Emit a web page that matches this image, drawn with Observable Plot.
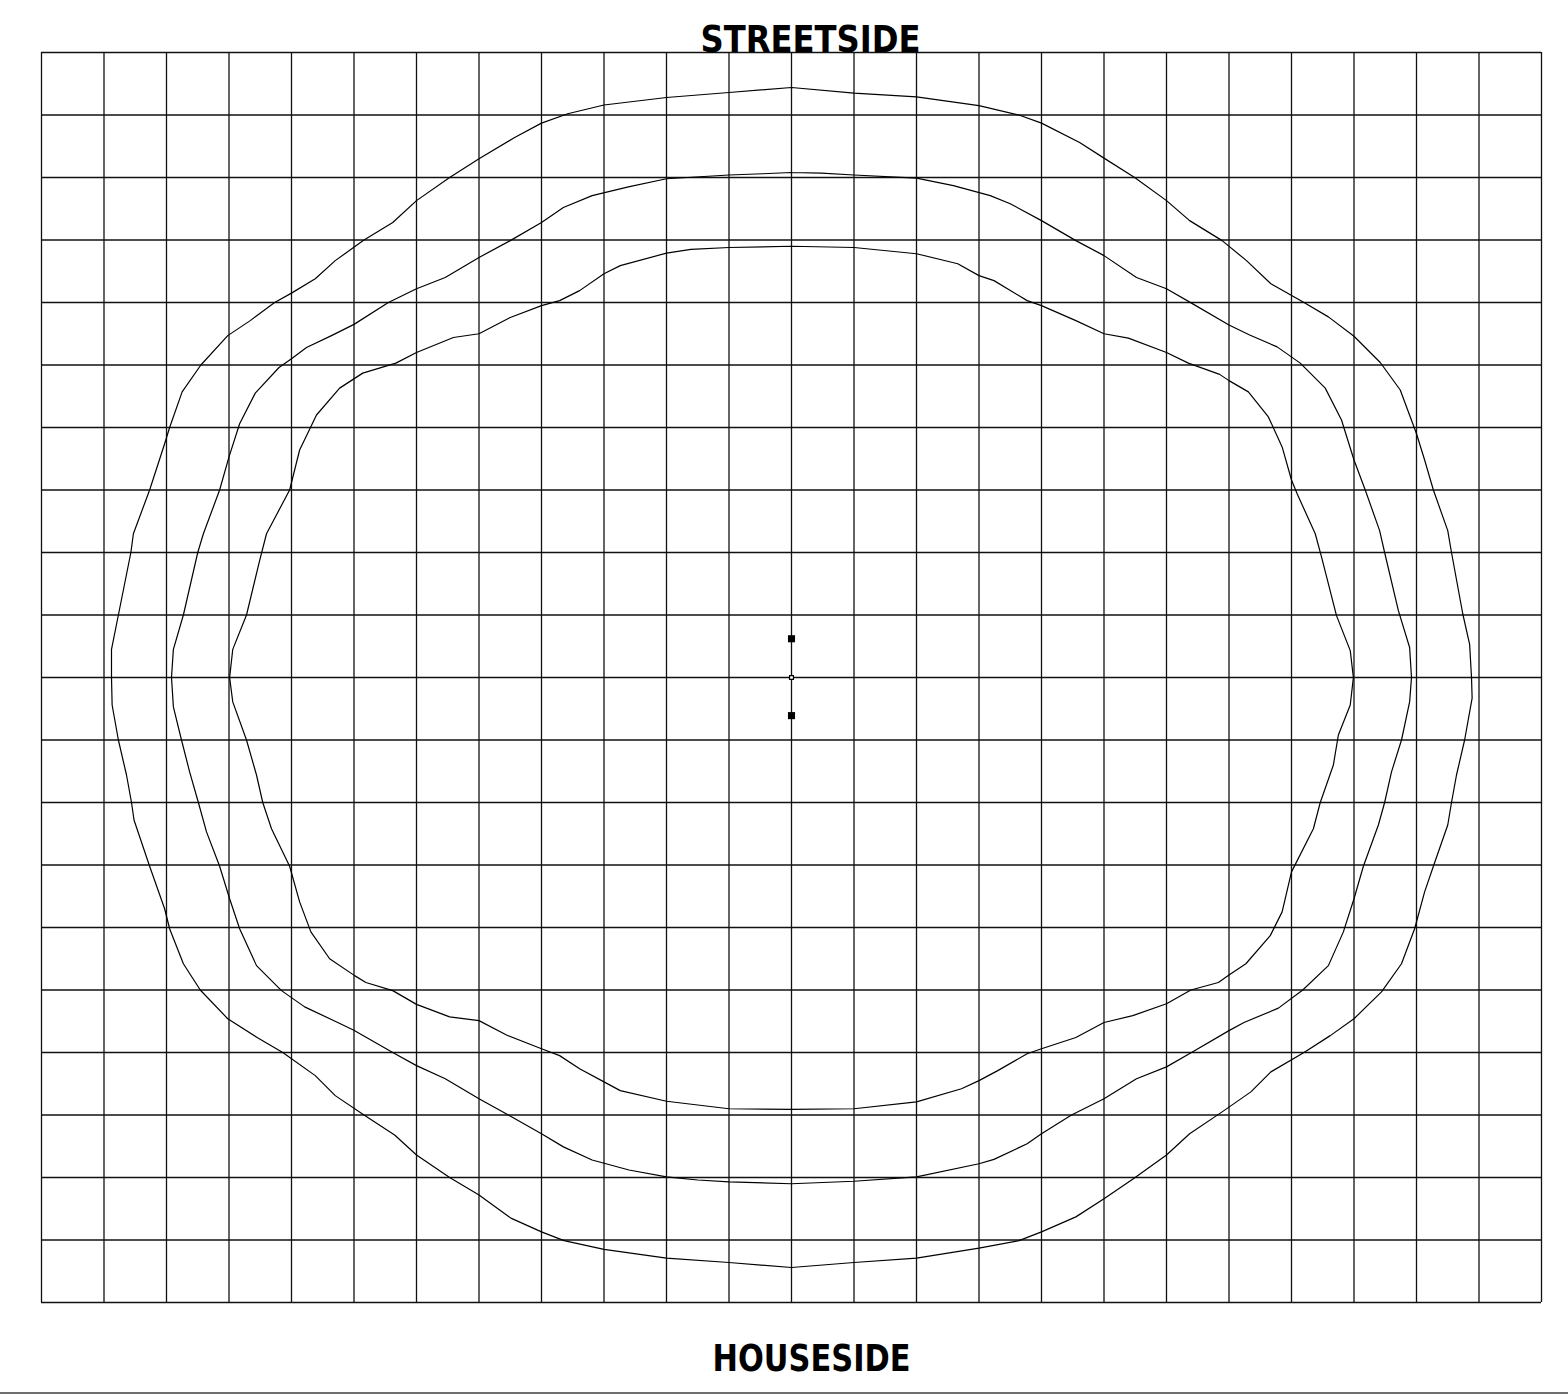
<!DOCTYPE html>
<html>
<head>
<meta charset="utf-8">
<script src="https://cdn.jsdelivr.net/npm/d3@7"></script>
<script src="https://cdn.jsdelivr.net/npm/@observablehq/plot@0.6"></script>
<style>
  html, body { margin: 0; padding: 0; background: #fff; }
  #chart { width: 1568px; }
  .baseline { width: 1568px; height: 2px; background: #6e6e6e; }
</style>
</head>
<body>
<div id="chart"></div>
<div class="baseline"></div>
<script>
// Grid lines (grid units; one cell = one unit)
const gridX = [-12,-11,-10,-9,-8,-7,-6,-5,-4,-3,-2,-1,0,1,2,3,4,5,6,7,8,9,10,11,12];
const gridY = [-10,-9,-8,-7,-6,-5,-4,-3,-2,-1,0,1,2,3,4,5,6,7,8,9,10];

// Labels
const topLabel = "STREETSIDE";
const bottomLabel = "HOUSESIDE";

// Outer contour (x, y), clockwise from top centre
const outerContour = [
  [0,9.44],[1,9.35],[2,9.29],[3,9.15],[3.64,9.0],[4,8.87],[4.61,8.56],[5,8.31],[5.49,8.0],[6,7.63],
  [6.37,7.31],[6.89,6.99],[7.28,6.67],[7.67,6.3],[8.2,6.0],[8.59,5.77],[9,5.46],[9.42,5.04],[9.74,4.6],
  [10,3.9],[10.13,3.48],[10.27,3.0],[10.5,2.35],[10.56,2.0],[10.74,1.02],[10.85,0.53],[10.88,0],
  [10.89,-0.33],[10.77,-1.0],[10.64,-1.56],[10.56,-2.0],[10.5,-2.36],[10.27,-3.02],[10.13,-3.43],
  [9.97,-4.02],[9.76,-4.58],[9.44,-5.03],[9.0,-5.46],[8.62,-5.73],[8.2,-6.0],[7.67,-6.31],[7.35,-6.63],
  [6.89,-6.95],[6.37,-7.3],[6.0,-7.64],[5.47,-8.02],[5,-8.34],[4.55,-8.63],[4,-8.87],[3.64,-9.01],
  [3,-9.13],[2,-9.29],[1,-9.36],[0,-9.44],
  [-1,-9.36],[-2,-9.29],[-3,-9.15],[-3.64,-9.01],[-4,-8.87],[-4.49,-8.65],[-5,-8.28],[-5.47,-8.0],
  [-6,-7.64],[-6.35,-7.32],[-6.84,-7.0],[-7.3,-6.69],[-7.62,-6.37],[-8.14,-6.0],[-8.55,-5.76],
  [-9.02,-5.46],[-9.46,-5.0],[-9.73,-4.58],[-9.95,-4.02],[-10.03,-3.7],[-10.27,-3.02],[-10.52,-2.28],
  [-10.56,-2.0],[-10.64,-1.56],[-10.77,-1.0],[-10.87,-0.44],[-10.88,0],
  [-10.88,0.45],[-10.77,1.0],[-10.57,2.0],[-10.53,2.3],[-10.27,3.0],[-10.03,3.74],[-9.95,4.0],
  [-9.75,4.57],[-9.45,5.0],[-9.02,5.47],[-8.66,5.71],[-8.27,6.0],[-8,6.15],[-7.62,6.38],[-7.3,6.67],
  [-6.84,7.0],[-6.38,7.28],[-6.0,7.63],[-5.47,8.0],[-5,8.30],[-4.43,8.64],[-4,8.87],[-3.58,9.02],
  [-3,9.16],[-2,9.28],[-1,9.36],[0,9.44]
];

// Middle contour
const middleContour = [
  [0,8.08],[0.48,8.07],[1,8.04],[2,7.99],[2.59,7.87],[3.18,7.71],[3.5,7.58],[4,7.31],[4.55,6.99],
  [5,6.75],[5.52,6.4],[6,6.22],[6.4,5.99],[7,5.64],[7.33,5.48],[7.77,5.29],[8.14,5.03],[8.54,4.63],
  [8.8,4.12],[9,3.48],[9.18,3.0],[9.41,2.35],[9.49,2.0],[9.71,1.07],[9.89,0.48],[9.92,0],
  [9.89,-0.39],[9.76,-1.0],[9.6,-1.51],[9.49,-2.0],[9.39,-2.36],[9.15,-3.02],[9.0,-3.54],[8.83,-4.07],
  [8.59,-4.61],[8.18,-5.0],[7.79,-5.29],[7.24,-5.52],[7.0,-5.65],[6.4,-6.0],[6.0,-6.23],[5.52,-6.42],
  [5,-6.74],[4.48,-7.0],[4,-7.3],[3.77,-7.46],[3.24,-7.71],[3,-7.78],[2,-7.99],[1,-8.06],[0,-8.1],
  [-1,-8.07],[-1.5,-8.04],[-2,-7.99],[-2.6,-7.88],[-3.19,-7.72],[-3.65,-7.51],[-4,-7.3],[-4.53,-7.0],
  [-5,-6.74],[-5.54,-6.42],[-6,-6.21],[-6.38,-6.0],[-7.01,-5.64],[-7.26,-5.52],[-7.79,-5.27],
  [-8.16,-5.01],[-8.56,-4.61],[-8.83,-4.02],[-8.99,-3.54],[-9.15,-3.02],[-9.36,-2.47],[-9.49,-2.0],
  [-9.63,-1.51],[-9.76,-1.0],[-9.89,-0.47],[-9.92,0],
  [-9.89,0.45],[-9.73,1.0],[-9.5,2.0],[-9.41,2.3],[-9.15,3.0],[-9.0,3.53],[-8.83,4.06],[-8.58,4.55],
  [-8.2,4.96],[-8.0,5.1],[-7.76,5.28],[-7.36,5.47],[-7.0,5.65],[-6.45,6.0],[-6.0,6.22],[-5.54,6.4],
  [-5,6.72],[-4.5,6.99],[-4,7.28],[-3.65,7.52],[-3.19,7.71],[-2.61,7.85],[-2,7.98],[-1,8.04],
  [-0.46,8.06],[0,8.08]
];

// Inner contour
const innerContour = [
  [0,6.9],[1,6.88],[2,6.78],[2.66,6.62],[3,6.43],[3.24,6.35],[3.77,6.03],[4,5.95],[4.55,5.71],
  [5,5.5],[5.39,5.43],[6,5.2],[6.35,5.03],[6.85,4.85],[7,4.75],[7.31,4.57],[7.63,4.17],[7.85,3.69],
  [8.0,3.16],[8.09,2.94],[8.38,2.3],[8.48,1.93],[8.72,0.99],[8.94,0.43],[8.99,0],
  [8.94,-0.44],[8.75,-0.92],[8.67,-1.4],[8.46,-2.0],[8.35,-2.42],[8.0,-3.11],[7.85,-3.75],[7.66,-4.13],
  [7.27,-4.58],[7.0,-4.76],[6.83,-4.88],[6.39,-5.0],[6.0,-5.22],[5.46,-5.41],[5,-5.52],[4.55,-5.76],
  [4,-5.94],[3.77,-6.02],[3.3,-6.29],[3,-6.45],[2.72,-6.58],[2,-6.79],[1,-6.9],[0,-6.91],
  [-1,-6.9],[-2,-6.78],[-2.74,-6.61],[-3,-6.47],[-3.39,-6.26],[-3.71,-6.05],[-4,-5.94],[-4.56,-5.72],
  [-5,-5.49],[-5.47,-5.43],[-6,-5.23],[-6.38,-5.01],[-6.81,-4.88],[-6.99,-4.77],[-7.39,-4.5],
  [-7.69,-4.07],[-7.87,-3.59],[-8.03,-3.02],[-8.32,-2.42],[-8.46,-2.0],[-8.56,-1.56],[-8.72,-1.0],
  [-8.94,-0.39],[-8.99,0],
  [-8.94,0.45],[-8.72,1.0],[-8.51,1.87],[-8.4,2.3],[-8.03,3.0],[-7.87,3.64],[-7.6,4.2],[-7.23,4.63],
  [-6.86,4.87],[-6.33,5.03],[-6.0,5.2],[-5.41,5.44],[-5,5.5],[-4.5,5.76],[-4,5.95],[-3.71,6.03],
  [-3.39,6.19],[-3,6.46],[-2.74,6.59],[-2,6.79],[-1.61,6.85],[-1,6.88],[0,6.9]
];

// Centre markers
const markerY = [0.62, -0.61];
const centreY = [0];

const contours = [
  ...outerContour.map(([x, y]) => ({x, y, ring: "outer"})),
  ...middleContour.map(([x, y]) => ({x, y, ring: "middle"})),
  ...innerContour.map(([x, y]) => ({x, y, ring: "inner"}))
];

const chart = Plot.plot({
  width: 1568,
  height: 1392,
  marginLeft: 41,
  marginRight: 27,
  marginTop: 52,
  marginBottom: 90,
  x: {domain: [-12, 12], axis: null},
  y: {domain: [-10, 10], axis: null},
  style: {background: "#fff"},
  marks: [
    Plot.ruleX(gridX, {stroke: "#111", strokeWidth: 1.3, strokeOpacity: 1}),
    Plot.ruleY(gridY, {stroke: "#111", strokeWidth: 1.3, strokeOpacity: 1}),
    Plot.line(contours, {x: "x", y: "y", z: "ring", stroke: "#000", strokeWidth: 1.2, curve: "linear"}),
    Plot.dot(markerY, {x: () => 0, y: d => d, symbol: "square", r: 4, fill: "#000", stroke: "none"}),
    Plot.dot(centreY, {x: () => 0, y: d => d, symbol: "square", r: 2.2, fill: "#fff", stroke: "#000", strokeWidth: 1.2}),
    Plot.text([topLabel], {
      frameAnchor: "top", text: d => d, dx: 19, dy: -1, lineAnchor: "bottom", className: "label-top",
      fontFamily: "DejaVu Sans", fontWeight: "bold", fontSize: 37, fill: "#000"
    }),
    Plot.text([bottomLabel], {
      frameAnchor: "bottom", text: d => d, dx: 20, dy: 68, lineAnchor: "bottom", className: "label-bottom",
      fontFamily: "DejaVu Sans", fontWeight: "bold", fontSize: 37, fill: "#000"
    })
  ]
});
// Narrow the lettering to the drawing's condensed stencil width
chart.querySelectorAll(".label-top text").forEach(t => {
  t.setAttribute("textLength", 220);
  t.setAttribute("lengthAdjust", "spacingAndGlyphs");
});
chart.querySelectorAll(".label-bottom text").forEach(t => {
  t.setAttribute("textLength", 198);
  t.setAttribute("lengthAdjust", "spacingAndGlyphs");
});
document.getElementById("chart").appendChild(chart);
</script>
</body>
</html>
